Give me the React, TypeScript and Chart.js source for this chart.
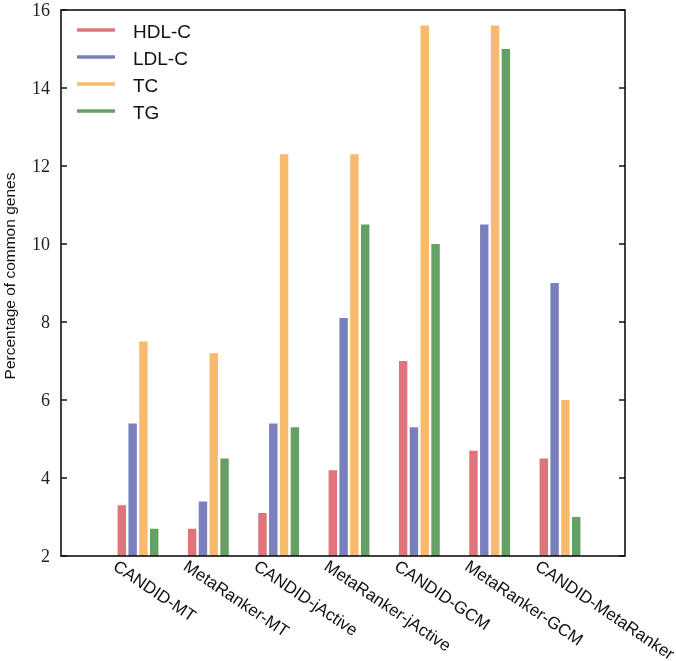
import React, { useEffect, useRef } from "react";
import { Chart, registerables } from "chart.js";

Chart.register(...registerables);

const categories = [
  "CANDID-MT",
  "MetaRanker-MT",
  "CANDID-jActive",
  "MetaRanker-jActive",
  "CANDID-GCM",
  "MetaRanker-GCM",
  "CANDID-MetaRanker",
];
const seriesNames = ["HDL-C", "LDL-C", "TC", "TG"];
const hdlValues = [3.3, 2.7, 3.1, 4.2, 7.0, 4.7, 4.5];
const ldlValues = [5.4, 3.4, 5.4, 8.1, 5.3, 10.5, 9.0];
const tcValues = [7.5, 7.2, 12.3, 12.3, 15.6, 15.6, 6.0];
const tgValues = [2.7, 4.5, 5.3, 10.5, 10.0, 15.0, 3.0];
const seriesColors = ["#E0747B", "#7A80BB", "#F8BB6E", "#64A064"];
const yTicks = [2, 4, 6, 8, 10, 12, 14, 16];
const yTitle = "Percentage of common genes";

const W = 676;
const H = 661;

const decorPlugin = {
  id: "decor",
  afterDraw(chart: any) {
    const ctx = chart.ctx as CanvasRenderingContext2D;
    const { left, right, top, bottom } = chart.chartArea;
    const xs = chart.scales.x;
    const ys = chart.scales.y;
    ctx.save();
    // frame
    ctx.strokeStyle = "#111";
    ctx.lineWidth = 1.6;
    ctx.strokeRect(left, top, right - left, bottom - top);
    // y ticks (inward, both sides) + labels
    ctx.font = '18px "Liberation Serif", serif';
    ctx.fillStyle = "#222";
    ctx.textAlign = "right";
    ctx.textBaseline = "middle";
    yTicks.forEach((v) => {
      const py = ys.getPixelForValue(v);
      ctx.beginPath();
      ctx.moveTo(left, py);
      ctx.lineTo(left + 6, py);
      ctx.moveTo(right, py);
      ctx.lineTo(right - 6, py);
      ctx.stroke();
      ctx.fillText(String(v), left - 11, py + 1);
    });
    // x labels rotated clockwise
    ctx.font = '17px "Liberation Sans", Arial, sans-serif';
    ctx.textAlign = "left";
    ctx.textBaseline = "alphabetic";
    ctx.fillStyle = "#111";
    const ang = (34 * Math.PI) / 180;
    categories.forEach((c, i) => {
      const px = xs.getPixelForValue(i + 1);
      ctx.save();
      ctx.translate(px - 26, bottom + 13);
      ctx.rotate(ang);
      ctx.fillText(c, 0, 0);
      ctx.restore();
    });
    // y title
    ctx.save();
    ctx.font = '15.5px "Liberation Sans", Arial, sans-serif';
    ctx.textAlign = "center";
    ctx.textBaseline = "middle";
    ctx.translate(11, 276);
    ctx.rotate(-Math.PI / 2);
    ctx.fillText(yTitle, 0, 0);
    ctx.restore();
    // legend
    ctx.font = '19px "Liberation Sans", Arial, sans-serif';
    ctx.textAlign = "left";
    ctx.textBaseline = "alphabetic";
    chart.data.datasets.forEach((d: any, k: number) => {
      const ly = 30 + 27 * k;
      ctx.strokeStyle = d.backgroundColor;
      ctx.lineWidth = 3.5;
      ctx.beginPath();
      ctx.moveTo(77, ly);
      ctx.lineTo(115, ly);
      ctx.stroke();
      ctx.fillStyle = "#111";
      ctx.fillText(d.label, 133, ly + 7.5);
    });
    ctx.restore();
  },
};

export default function App() {
  const ref = useRef<HTMLCanvasElement | null>(null);
  useEffect(() => {
    document.body.style.margin = "0";
    const canvas = ref.current;
    if (!canvas) return;
    const all = [hdlValues, ldlValues, tcValues, tgValues];
    const chart = new Chart(canvas, {
      type: "bar",
      data: {
        datasets: seriesNames.map((name, k) => ({
          label: name,
          data: categories.map((_, i) => ({ x: i + 1, y: all[k][i] })),
          backgroundColor: seriesColors[k],
          borderWidth: 0,
          categoryPercentage: 0.665,
          barPercentage: 0.78,
        })),
      },
      options: {
        responsive: false,
        animation: false,
        layout: { padding: { left: 61, right: W - 625, top: 10, bottom: H - 556 } },
        plugins: { legend: { display: false }, tooltip: { enabled: false } },
        scales: {
          x: { type: "linear", min: -0.095, max: 7.924, offset: false, display: false },
          y: { type: "linear", min: 2, max: 16, display: false },
        },
      },
      plugins: [decorPlugin],
    } as any);
    return () => chart.destroy();
  }, []);
  return (
    <div style={{ width: W, height: H }}>
      <canvas ref={ref} width={W} height={H} style={{ width: W, height: H, display: "block" }} />
    </div>
  );
}
